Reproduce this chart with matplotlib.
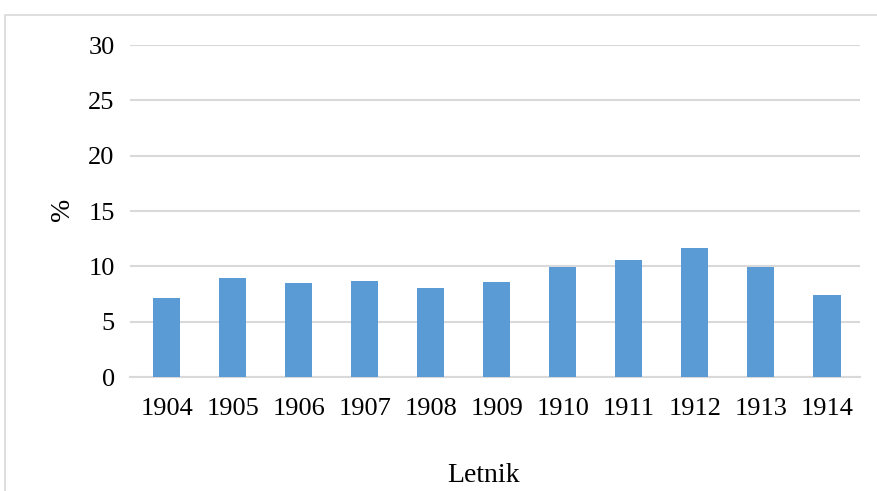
import matplotlib.pyplot as plt
from matplotlib.patches import Rectangle

years = ['1904', '1905', '1906', '1907', '1908', '1909',
         '1910', '1911', '1912', '1913', '1914']
values = [7.15, 8.92, 8.47, 8.71, 8.02, 8.62, 9.97, 10.58, 11.62, 9.91, 7.39]
yticks = [0, 5, 10, 15, 20, 25, 30]

plt.rcParams['font.family'] = ['Liberation Serif', 'DejaVu Serif']

W, H = 878, 491
fig = plt.figure(figsize=(W / 100, H / 100), dpi=100)
ax = fig.add_axes([130 / W, 1 - 377 / H, 730 / W, 332 / H])

# chart area border (light gray, open at the right/bottom like the source)
fig.patches.append(Rectangle((5 / W, -0.2), 2, 1.2 - 15 / H,
                             transform=fig.transFigure, fill=False,
                             edgecolor='#D9D9D9', linewidth=1.2))

x = range(len(years))
ax.bar(x, values, width=0.41, color='#5B9BD5', zorder=3)

ax.set_ylim(0, 30)
ax.set_xlim(-0.555, len(years) - 0.5)
ax.set_yticks(yticks)
ax.set_xticks(list(x))
ax.set_xticklabels(years)
ax.grid(axis='y', color='#D9D9D9', linewidth=1.5, zorder=0)
for s in ['top', 'right', 'left']:
    ax.spines[s].set_visible(False)
ax.spines['bottom'].set_color('#D9D9D9')
ax.spines['bottom'].set_linewidth(1.5)
ax.tick_params(axis='both', length=0, labelsize=19, labelcolor='black')
ax.tick_params(axis='y', pad=11)
ax.tick_params(axis='x', pad=15)

fig.text(484 / W, 1 - 476 / H, 'Letnik', ha='center', va='center', fontsize=20)
fig.text(62 / W, 1 - 209 / H, '%', ha='center', va='center', fontsize=20,
         rotation=90)

fig.savefig('out.png', dpi=100)
